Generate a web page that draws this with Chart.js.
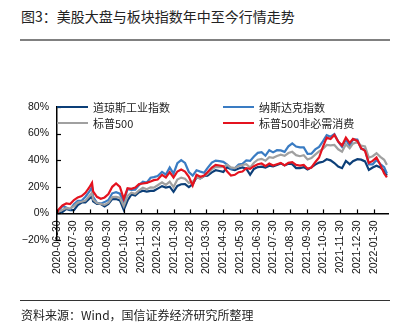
<!DOCTYPE html>
<html><head><meta charset="utf-8">
<script src="https://cdn.jsdelivr.net/npm/chart.js@4"></script>
<style>
body{margin:0;width:402px;height:330px;overflow:hidden;background:#fff;font-family:"Noto Sans CJK SC","Liberation Sans",sans-serif;position:relative}
#title{position:absolute;left:21px;top:6px;font-size:14px;line-height:20px;color:#222;white-space:nowrap}
#tline{position:absolute;left:20px;top:39px;width:370px;height:2px;background:#808080}
#bline{position:absolute;left:20px;top:300px;width:370px;height:1px;background:#333}
#src{position:absolute;left:21px;top:306px;font-size:12px;line-height:17px;color:#222;white-space:nowrap}
#wrap{position:absolute;left:0;top:0;width:402px;height:330px}
.lg{position:absolute;font-size:11px;line-height:14px;color:#222;display:flex;align-items:center;white-space:nowrap}
.lg i{display:inline-block;width:31px;height:2.5px;margin-right:5px}
</style></head>
<body>
<div id="title">图3：美股大盘与板块指数年中至今行情走势</div>
<div id="tline"></div>
<div id="wrap"><canvas id="c" width="402" height="330"></canvas></div>
<div id="legend"></div>
<div id="bline"></div>
<div id="src">资料来源：Wind，国信证券经济研究所整理</div>
<script>
const tickLabels = ["2020-06-30","2020-07-30","2020-08-30","2020-09-30","2020-10-30","2020-11-30","2020-12-30","2021-01-30","2021-02-28","2021-03-30","2021-04-30","2021-05-30","2021-06-30","2021-07-30","2021-08-30","2021-09-30","2021-10-30","2021-11-30","2021-12-30","2022-01-30"];
const axisEnd = "2022-02-25";
const yTicks = [-20, 0, 20, 40, 60, 80];

const dates = ["2020-06-30","2020-07-02","2020-07-10","2020-07-17","2020-07-24","2020-07-31","2020-08-07","2020-08-14","2020-08-21","2020-08-28",
"2020-09-02","2020-09-04","2020-09-11","2020-09-18","2020-09-25","2020-10-02","2020-10-09","2020-10-16","2020-10-23","2020-10-30",
"2020-11-06","2020-11-13","2020-11-20","2020-11-27","2020-12-04","2020-12-11","2020-12-18","2020-12-24","2020-12-31","2021-01-08",
"2021-01-15","2021-01-22","2021-01-29","2021-02-05","2021-02-12","2021-02-19","2021-02-26","2021-03-05","2021-03-12","2021-03-19",
"2021-03-26","2021-04-01","2021-04-09","2021-04-16","2021-04-23","2021-04-30","2021-05-07","2021-05-14","2021-05-21","2021-05-28",
"2021-06-04","2021-06-11","2021-06-18","2021-06-25","2021-07-02","2021-07-09","2021-07-16","2021-07-23","2021-07-30","2021-08-06",
"2021-08-13","2021-08-20","2021-08-27","2021-09-03","2021-09-10","2021-09-17","2021-09-24","2021-10-01","2021-10-08","2021-10-15",
"2021-10-22","2021-10-29","2021-11-05","2021-11-12","2021-11-19","2021-11-26","2021-12-03","2021-12-10","2021-12-17","2021-12-23",
"2021-12-31","2022-01-07","2022-01-14","2022-01-21","2022-01-28","2022-02-04","2022-02-11","2022-02-18","2022-02-23"];

const seriesNames = ["道琼斯工业指数","纳斯达克指数","标普500","标普500非必需消费"];
const seriesColors = ["#0c3f78","#3a7cc3","#a0a0a0","#e4131f"];

const dow = [0,0.1,1.0,3.3,2.5,2.4,6.3,8.2,8.2,11.0,
12.7,9.0,7.2,7.1,5.3,7.2,10.7,10.8,9.8,2.7,
9.7,14.2,13.4,15.9,17.1,16.4,16.9,17.0,18.6,20.5,
19.4,20.1,16.2,20.7,21.9,22.0,19.8,22.0,27.0,26.4,
28.1,28.4,30.9,32.5,31.9,31.2,34.7,33.2,32.5,33.8,
34.6,33.6,29.0,33.4,34.8,35.1,34.4,35.8,35.3,36.4,
37.6,36.1,37.4,37.0,34.1,34.0,34.8,33.0,34.6,36.7,
38.2,38.8,40.7,39.9,37.9,35.2,34.0,39.4,37.0,39.3,
40.8,40.4,39.1,32.7,34.5,35.9,34.6,32.0,28.5];

const nasdaq = [0,1.5,5.5,4.4,3.0,6.8,9.5,9.5,12.5,16.3,
19.9,12.5,7.9,7.3,8.5,10.1,15.1,16.0,14.8,8.5,
18.3,17.6,17.9,21.3,23.9,23.1,26.8,27.3,28.1,31.2,
29.2,34.6,29.9,37.7,40.1,37.9,31.1,28.4,32.4,31.4,
30.6,34.0,38.2,39.7,39.3,38.8,36.7,33.5,33.9,36.7,
37.3,39.9,39.5,42.8,45.5,46.1,43.4,47.5,45.9,47.5,
47.4,46.3,50.4,52.7,50.3,49.6,49.6,44.8,44.9,48.1,
50.0,54.1,58.8,57.7,59.6,54.0,50.0,55.4,50.8,55.6,
55.5,48.5,48.1,36.9,36.9,40.2,37.1,34.7,30.0];

const sp500 = [0,1.0,2.7,4.0,3.7,5.5,8.1,8.8,9.6,13.2,
15.5,10.5,7.8,7.1,6.4,8.0,12.2,12.4,11.8,5.5,
13.2,15.6,14.8,17.3,19.3,18.2,19.6,19.4,21.2,23.4,
21.5,23.9,19.8,25.4,26.9,26.0,22.9,23.9,27.2,26.2,
28.2,29.7,33.2,35.0,34.8,34.9,36.5,34.6,34.0,35.6,
36.4,37.0,34.4,38.1,40.4,41.0,39.6,42.3,41.8,43.1,
44.1,43.3,45.4,46.3,43.8,43.0,43.7,40.5,41.6,44.2,
46.6,48.5,51.5,51.1,51.5,48.2,46.4,52.0,49.0,52.4,
53.7,50.9,50.4,41.9,43.0,45.2,42.5,40.3,36.5];

const spDiscretionary = [0,2.5,6.0,7.5,7.0,10.0,12.0,13.0,15.5,19.5,
23.0,16.5,12.5,11.0,12.0,14.5,20.0,22.5,20.0,11.0,
19.0,18.5,19.5,22.0,22.5,23.0,24.0,25.0,25.5,29.0,
27.0,31.0,27.0,31.5,33.0,31.5,27.5,21.0,29.0,27.5,
28.5,31.0,34.5,36.5,36.0,35.5,31.5,28.5,29.0,31.0,
31.5,34.0,33.5,35.5,37.0,37.5,35.5,37.5,36.0,37.0,
38.0,36.0,38.0,38.5,36.5,36.0,36.5,33.5,34.5,38.5,
42.0,50.0,57.0,56.0,59.0,54.0,51.0,57.0,53.0,56.0,
54.5,49.0,47.0,38.0,39.5,42.0,36.5,30.0,27.0];

const seriesValues = [dow, nasdaq, sp500, spDiscretionary];
const drawOrder = [3, 2, 1, 0];

const base = Date.parse(dates[0]);
const toDay = d => (Date.parse(d) - base) / 86400000;

const datasets = seriesValues.map((vals, k) => ({
  label: seriesNames[k],
  data: dates.map((d, i) => ({x: toDay(d), y: vals[i]})),
  borderColor: seriesColors[k],
  backgroundColor: seriesColors[k],
  borderWidth: 2.2,
  pointRadius: 0,
  tension: 0,
  order: drawOrder[k]
}));

const innerTicks = {
  id: 'innerTicks',
  afterDraw(chart) {
    const {ctx, scales: {x, y}} = chart;
    ctx.save();
    ctx.strokeStyle = '#000';
    ctx.lineWidth = 1.2;
    const y0 = y.getPixelForValue(0);
    const xl = x.getPixelForValue(0);
    x.ticks.forEach(t => {
      const px = Math.round(x.getPixelForValue(t.value)) + 0.5;
      ctx.beginPath(); ctx.moveTo(px, y0); ctx.lineTo(px, y0 - 4); ctx.stroke();
    });
    yTicks.forEach(v => {
      const py = Math.round(y.getPixelForValue(v)) + 0.5;
      ctx.beginPath(); ctx.moveTo(xl, py); ctx.lineTo(xl + 4, py); ctx.stroke();
    });
    ctx.restore();
  }
};

const tickFont = {family: '"Liberation Sans", Arial, sans-serif', size: 10.5};

new Chart(document.getElementById('c'), {
  type: 'line',
  data: {datasets},
  options: {
    responsive: false,
    animation: false,
    events: [],
    layout: {padding: {top: 107, right: 14, bottom: 90, left: 0}},
    plugins: {legend: {display: false}, tooltip: {enabled: false}},
    scales: {
      x: {
        type: 'linear',
        position: {y: 0},
        min: 0,
        max: toDay(axisEnd),
        grid: {display: false, drawTicks: false},
        border: {display: true, color: '#000', width: 1.5},
        ticks: {
          autoSkip: false, maxRotation: 90, minRotation: 90, padding: 7,
          color: '#111', font: tickFont,
          callback: (v, i) => tickLabels[i]
        },
        afterBuildTicks: s => { s.ticks = tickLabels.map(t => ({value: toDay(t)})); },
        afterFit: s => { s.height = 0; s.paddingLeft = 0; s.paddingRight = 0; }
      },
      y: {
        min: yTicks[0], max: yTicks[yTicks.length - 1],
        grid: {display: false, drawTicks: false},
        border: {display: true, color: '#000', width: 1.5},
        ticks: {
          stepSize: 20, padding: 8, color: '#111', font: tickFont,
          callback: v => (v < 0 ? '\u2212' : '') + Math.abs(v) + '%'
        },
        afterBuildTicks: s => { s.ticks = yTicks.map(v => ({value: v})); },
        afterFit: s => { s.width = 57; }
      }
    }
  },
  plugins: [innerTicks]
});

const legendPos = [[57, 100], [223, 100], [57, 116], [223, 116]];
const legendOrder = [0, 1, 2, 3];
const lg = document.getElementById('legend');
legendOrder.forEach((k, j) => {
  const d = document.createElement('div');
  d.className = 'lg';
  d.style.left = legendPos[j][0] + 'px';
  d.style.top = legendPos[j][1] + 'px';
  const i = document.createElement('i');
  i.style.background = seriesColors[k];
  d.appendChild(i);
  d.appendChild(document.createTextNode(seriesNames[k]));
  lg.appendChild(d);
});
</script>
</body></html>
